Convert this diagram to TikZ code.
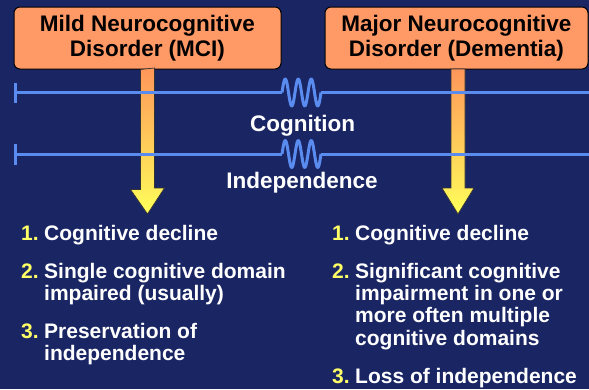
\documentclass[tikz,border=0pt]{standalone}
\usepackage{fontspec}
\setmainfont{Liberation Sans}[BoldFont={Liberation Sans Bold}]
\newfontfamily\heavysans{Liberation Sans Bold}
\usetikzlibrary{arrows.meta}
\definecolor{bg}{RGB}{26,38,100}
\definecolor{boxfill}{RGB}{255,153,102}
\definecolor{lineblue}{RGB}{90,140,240}
\definecolor{numyellow}{RGB}{255,255,102}
\definecolor{arrtop}{RGB}{255,150,90}
\definecolor{arrbot}{RGB}{255,255,90}
\begin{document}
\begin{tikzpicture}[x=1pt,y=-1pt,
  titlebox/.style={draw=black, line width=1pt, fill=boxfill, rounded corners=6pt,
    minimum height=62pt, inner sep=0pt, align=center,
    font=\heavysans\fontsize{22.5}{25.5}\selectfont, text=black},
  axisline/.style={draw=lineblue, line width=3pt},
  axislabel/.style={text=white, font=\heavysans\fontsize{22.5}{26}\selectfont, anchor=base, inner sep=0pt},
  numlabel/.style={text=numyellow, font=\heavysans\fontsize{21}{22.4}\selectfont, anchor=base west, inner sep=0pt},
  itemtext/.style={text=white, font=\heavysans\fontsize{21}{22.4}\selectfont, anchor=base west, inner sep=0pt, align=left},
  bigarrow/.style={top color=arrtop, bottom color=arrbot, draw=black!80, line width=0.7pt},
]
\path[fill=bg] (0,0) rectangle (589,389);
\useasboundingbox (0,0) rectangle (589,389);

% title boxes
\node[titlebox, minimum width=267pt] (mci) at (147.5,38) {Mild Neurocognitive\\Disorder (MCI)};
\node[titlebox, minimum width=263pt] (dem) at (456.5,38) {Major Neurocognitive\\Disorder (Dementia)};

% arrows
\coordinate (tip1) at (147.5,214);
\coordinate (tip2) at (458,214);
\shade[bigarrow] (mci.south) ++(-7,0) -- ++(0,120) -- ++(-10,0) -- (tip1)
  -- ++(17,-26) -- ++(-10,0) -- ++(0,-120) -- cycle;
\shade[bigarrow] (tip2) ++(-7,-145) -- ++(0,119) -- ++(-9,0) -- (tip2)
  -- ++(16,-26) -- ++(-9,0) -- ++(0,-119) -- cycle;

% cognition line
\coordinate (c1s) at (13.5,92.5);
\coordinate (c1a) at (282,92.5);
\coordinate (c1b) at (321,92.5);
\coordinate (c1e) at (589,92.5);
\draw[axisline, {Bar[width=20pt]}-] (c1s) -- (c1a);
\draw[axisline, line join=round] plot[domain=282:321, samples=90, smooth] (\x, {92.5-13.5*sin(360*(\x-282)/13)});
\draw[axisline] (c1b) -- (c1e);
\node[axislabel] (cog) at (302.5,131) {Cognition};

% independence line
\coordinate (c2s) at (13.5,154);
\coordinate (c2a) at (282,154);
\coordinate (c2b) at (321,154);
\coordinate (c2e) at (589,154);
\draw[axisline, {Bar[width=21pt]}-] (c2s) -- (c2a);
\draw[axisline, line join=round] plot[domain=282:321, samples=90, smooth] (\x, {154-13.5*sin(360*(\x-282)/13)});
\draw[axisline] (c2b) -- (c2e);
\node[axislabel] (ind) at (302,188) {Independence};

% left list (base anchor = baseline of last line)
\node[numlabel] (l1n) at (21,240) {1.};
\node[itemtext] (l1t) at (44,240) {Cognitive decline};
\node[numlabel] (l2n) at (21,278) {2.};
\node[itemtext] (l2t) at (44,300.4) {Single cognitive domain\\impaired (usually)};
\node[numlabel] (l3n) at (21,338) {3.};
\node[itemtext] (l3t) at (44,360.4) {Preservation of\\independence};

% right list
\node[numlabel] (r1n) at (332,240) {1.};
\node[itemtext] (r1t) at (355,240) {Cognitive decline};
\node[numlabel] (r2n) at (332,278) {2.};
\node[itemtext] (r2t) at (355,345.2) {Significant cognitive\\impairment in one or\\more often multiple\\cognitive domains};
\node[numlabel] (r3n) at (332,383) {3.};
\node[itemtext] (r3t) at (355,383) {Loss of independence};
\end{tikzpicture}
\end{document}
